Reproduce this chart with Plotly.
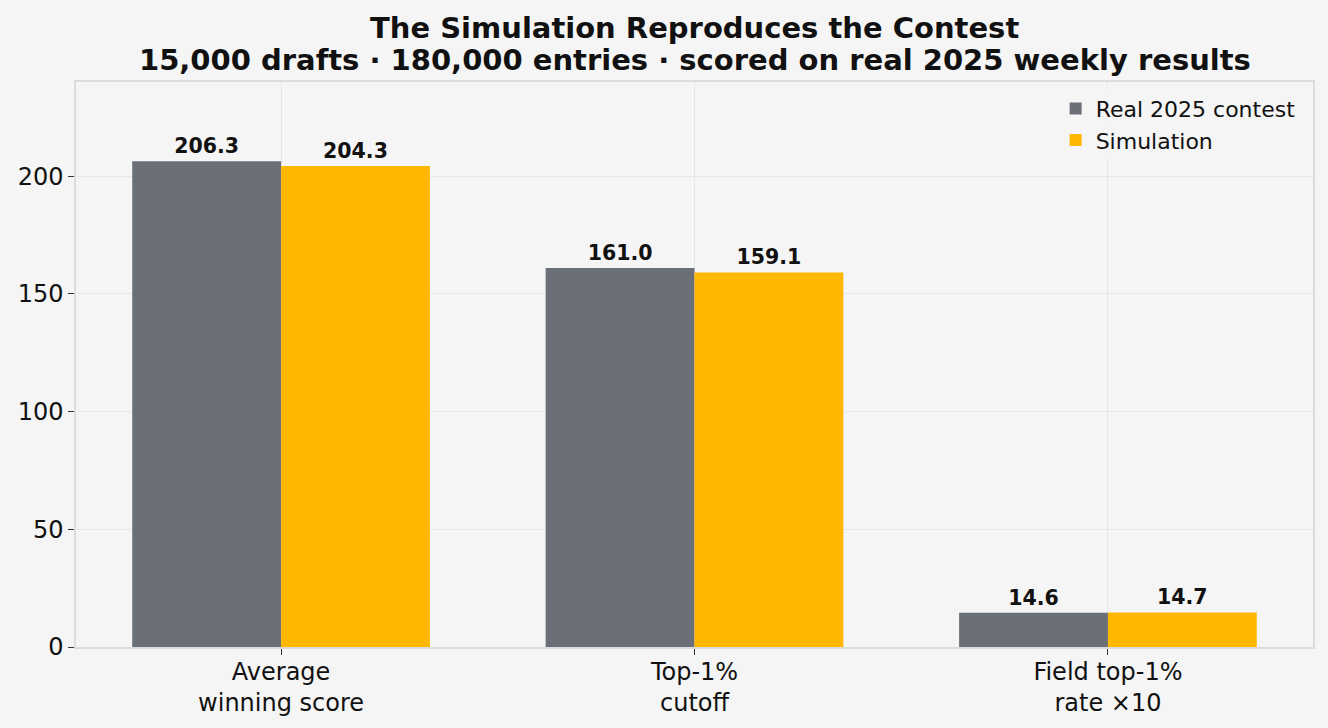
import plotly.graph_objects as go

# valores
categorias = ["Average<br>winning score", "Top-1%<br>cutoff", "Field top-1%<br>rate ×10"]
real_2025 = [206.3, 161.0, 14.6]
simulacion = [204.3, 159.1, 14.7]
ticks_y = [0, 50, 100, 150, 200]

gris = "#6b6f77"
oro = "#ffb700"
fuente = "DejaVu Sans"

fig = go.Figure()
for nombre, vals, color in [("Real 2025 contest", real_2025, gris), ("Simulation", simulacion, oro)]:
    fig.add_trace(go.Bar(x=categorias, y=vals, name=nombre, marker_color=color, marker_line_width=0,
                         text=[f"{v:.1f}" for v in vals], textposition="outside", cliponaxis=False,
                         textfont=dict(family=fuente, size=20.5, color="#111111", weight="bold")))

# titulo en dos anotaciones para controlar el interlineado
fig.add_annotation(text="<b>The Simulation Reproduces the Contest</b>", xref="paper", yref="paper",
                   x=0.5, y=1.0956, yanchor="middle", showarrow=False,
                   font=dict(family=fuente, size=29, color="#111111"))
fig.add_annotation(text="<b>15,000 drafts · 180,000 entries · scored on real 2025 weekly results</b>",
                   xref="paper", yref="paper", x=0.5, y=1.0389, yanchor="middle", showarrow=False,
                   font=dict(family=fuente, size=29, color="#111111"))

fig.update_layout(
    width=1328, height=728,
    barmode="group", bargap=0.28, bargroupgap=0,
    paper_bgcolor="#f5f5f5", plot_bgcolor="#f5f5f5",
    font=dict(family=fuente, size=24, color="#111111"),
    margin=dict(l=76, r=15, t=82, b=81),
    legend=dict(x=0.99, xanchor="right", y=0.99, yanchor="top", bgcolor="rgba(245,245,245,0.8)",
                font=dict(family=fuente, size=22, color="#111111")),
    showlegend=True,
)
fig.update_xaxes(range=[-0.496, 2.496], showgrid=True, gridcolor="#e6e6e6", gridwidth=1,
                 ticks="outside", ticklen=6, tickcolor="#333333", showline=True, linecolor="#dcdcdf",
                 mirror=True, linewidth=1.5, tickfont=dict(size=24), automargin=False,
                 ticklabelstandoff=-4)
fig.update_yaxes(range=[0, 240], tickvals=ticks_y, showgrid=True, gridcolor="#e6e6e6",
                 gridwidth=1, ticks="outside", ticklen=6, tickcolor="#333333", showline=True,
                 linecolor="#dcdcdf", mirror=True, linewidth=1.5, zeroline=False, tickfont=dict(size=24),
                 automargin=False)

fig.write_html("out.html", config={"displayModeBar": False},
               post_script="document.body.style.margin='0';")
